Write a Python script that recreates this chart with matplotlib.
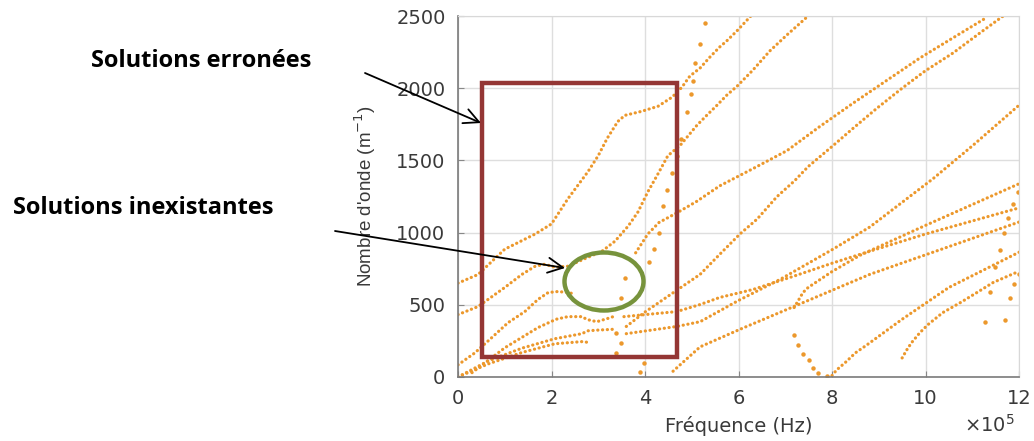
import matplotlib
matplotlib.use("Agg")
import matplotlib.pyplot as plt
from matplotlib.patches import Rectangle, Ellipse, FancyArrowPatch

# ---------------- data (x in units of 1e5 Hz, y in m^-1) ----------------
c1_x = [0, 0.43, 1.0, 1.65, 2.0, 2.35, 2.78, 3.0, 3.19, 3.42, 3.57, 3.93, 4.28, 4.58, 4.79, 4.96, 5.18, 5.39, 5.6, 5.75, 5.97, 6.29]
c1_y = [650, 710, 885, 990, 1060, 1234, 1422, 1533, 1652, 1770, 1812, 1840, 1875, 1938, 2007, 2084, 2140, 2216, 2286, 2328, 2398, 2509]

c2_x = [0, 0.43, 1.0, 1.37, 1.65, 1.86, 2.07, 2.35, 2.78, 3.08, 3.36, 3.64, 3.85, 4.06, 4.28, 4.49, 4.75, 5.11, 5.32, 5.54, 5.75, 5.97, 6.31, 6.67, 7.04, 7.49]
c2_y = [432, 488, 620, 711, 767, 781, 760, 767, 829, 871, 941, 1045, 1143, 1282, 1408, 1533, 1603, 1743, 1812, 1882, 1952, 2014, 2126, 2258, 2370, 2500]

c6_x = [0, 0.36, 0.72, 1.07, 1.43, 1.71, 1.93, 2.14, 2.35, 2.5]
c6_y = [84, 167, 272, 376, 453, 537, 585, 592, 585, 575]

c7_x = [0.3, 1.0, 1.71, 2.1, 2.35, 2.65, 2.76, 2.97, 3.19, 3.32]
c7_y = [30, 202, 342, 400, 418, 418, 398, 383, 404, 418]

c8a_x = [0, 0.64, 1.37, 2.07, 2.65, 2.78, 3.0, 3.3]
c8a_y = [0, 110, 200, 265, 300, 320, 325, 330]

c8b_x = [0, 0.64, 1.37, 2.07, 2.65, 2.78]
c8b_y = [0, 90, 170, 230, 245, 240]

l1_x = [3.8, 4.06, 4.3, 4.7, 5.1, 5.6, 6.31, 7.04, 7.74, 8.45, 9.18, 9.88, 10.59, 11.3]
l1_y = [860, 990, 1070, 1140, 1215, 1324, 1443, 1568, 1735, 1896, 2056, 2209, 2349, 2488]

l2_x = [3.6, 4.0, 4.64, 5.18, 5.6, 6.03, 6.4, 6.82, 7.2, 7.49, 8.0, 8.45, 8.96, 9.5, 9.99, 10.59, 11.17, 11.7]
l2_y = [350, 450, 592, 711, 850, 990, 1094, 1248, 1359, 1457, 1596, 1722, 1861, 2000, 2119, 2244, 2384, 2509]

ld_x = [3.55, 4.68, 5.18, 5.6, 6.31, 7.2, 8.02, 8.81, 10.0, 12.0]
ld_y = [418, 453, 502, 551, 606, 700, 790, 871, 990, 1171]

le_x = [3.6, 4.68, 5.18, 6.0, 6.89, 8.02, 8.81, 10.16, 11.0, 12.0]
le_y = [300, 350, 383, 530, 676, 885, 1039, 1373, 1600, 1882]

lf_x = [4.6, 4.75, 5.18, 6.03, 8.81, 12.0]
lf_y = [40, 84, 209, 330, 711, 1073]

lg_x = [7.19, 7.38, 7.49, 8.0, 8.6, 10.0, 12.0]
lg_y = [481, 585, 620, 730, 843, 1050, 1338]

lv_x = [8.0, 8.1, 8.3, 8.5, 8.75, 9.5, 10.5, 12.0]
lv_y = [10, 49, 105, 167, 223, 400, 620, 864]

lh_x = [9.5, 9.6, 9.7, 9.88, 10.05, 10.37, 10.75, 11.1, 11.45, 12.0]
lh_y = [132, 188, 237, 307, 362, 446, 516, 585, 655, 732]

# sparse dotted branches
c4_x = [4.09, 4.19, 4.3, 4.38, 4.48, 4.58, 4.69, 4.78, 4.89, 4.98, 5.03, 5.08, 5.18, 5.28]
c4_y = [795, 885, 1000, 1187, 1292, 1410, 1529, 1647, 1833, 1958, 2051, 2175, 2307, 2453]

vl_x = [7.19, 7.28, 7.38, 7.5, 7.6, 7.7, 7.9]
vl_y = [293, 223, 160, 118, 63, 28, 5]

s1_x = [11.27, 11.38, 11.49, 11.59, 11.68, 11.76, 11.87, 11.98]
s1_y = [383, 592, 760, 878, 997, 1101, 1199, 1282]

s2_x = [11.7, 11.8, 11.89, 12.0]
s2_y = [397, 544, 641, 711]

iso_x = [3.49, 3.57, 3.38, 3.49, 3.38, 3.89, 3.98]
iso_y = [544, 683, 306, 237, 167, 35, 98]

x_ticks = [0, 2, 4, 6, 8, 10, 12]
y_ticks = [0, 500, 1000, 1500, 2000, 2500]

# ---------------- figure ----------------
W, H = 1034, 441
fig = plt.figure(figsize=(W / 100, H / 100), dpi=100)
ax = fig.add_axes([458 / W, 64 / H, 561 / W, 361 / H])

dot_col = '#EC982C'
dotted = dict(color=dot_col, lw=2.3, ls=(0, (0.05, 1.45)), dash_capstyle='round')

for xs, ys in [(c1_x, c1_y), (c2_x, c2_y), (c6_x, c6_y), (c7_x, c7_y), (c8a_x, c8a_y),
               (c8b_x, c8b_y), (l1_x, l1_y), (l2_x, l2_y), (ld_x, ld_y), (le_x, le_y),
               (lf_x, lf_y), (lg_x, lg_y), (lv_x, lv_y), (lh_x, lh_y)]:
    ax.plot(xs, ys, **dotted)

for xs, ys in [(c4_x, c4_y), (vl_x, vl_y), (s1_x, s1_y), (s2_x, s2_y), (iso_x, iso_y)]:
    ax.plot(xs, ys, ls='none', marker='o', ms=3.2, mec='none', mfc=dot_col)

ax.set_xlim(0, 12)
ax.set_ylim(0, 2500)
ax.set_xticks(x_ticks)
ax.set_yticks(y_ticks)
ax.grid(True, color='#dedede', lw=1.0)
ax.set_axisbelow(True)
txt_col = '#3a3a3a'
tick_font = dict(family='DejaVu Sans', size=14, color=txt_col)
ax.set_xticklabels([str(t) for t in x_ticks], fontdict=tick_font)
ax.set_yticklabels([str(t) for t in y_ticks], fontdict=tick_font)
ax.tick_params(axis='x', direction='in', length=4, color='#888888', pad=9)
ax.tick_params(axis='y', direction='in', length=4, color='#888888', pad=9)
for s in ['left', 'bottom']:
    ax.spines[s].set_color('#7a7a7a')
    ax.spines[s].set_linewidth(1.2)
for s in ['top', 'right']:
    ax.spines[s].set_color('#d8d8d8')
ax.set_xlabel('Fréquence (Hz)', family='DejaVu Sans', size=14, color=txt_col)
ax.xaxis.set_label_coords(0.5, -0.108)
ax.set_ylabel("Nombre d'onde (m$^{-1}$)", family='Liberation Sans', size=13.5, color=txt_col)
ax.yaxis.set_label_coords(-0.143, 0.5)
fig.text(1015 / W, 1 - 432 / H, r'$\times$10$^{5}$', ha='right', va='baseline',
         family='DejaVu Sans', size=14, color=txt_col)

# ---------------- annotations (figure pixels) ----------------
def fp(x, y):
    return (x, H - y)

box = Rectangle(fp(482, 357), 195, 274, transform=None, fill=False,
                ec='#943634', lw=3.2)
fig.add_artist(box)
ell = Ellipse(fp(604, 281.5), 79, 58, transform=None, fill=False, ec='#77933C', lw=3.2)
fig.add_artist(ell)

arrow_kw = dict(arrowstyle='->,head_length=0.9,head_width=0.45', color='black', lw=1.3,
                shrinkA=0, shrinkB=0)
fig.add_artist(FancyArrowPatch(fp(365, 73), fp(481, 123), transform=None,
                               mutation_scale=12, **arrow_kw))
fig.add_artist(FancyArrowPatch(fp(335, 231), fp(565, 268), transform=None,
                               mutation_scale=12, **arrow_kw))

fig.text(201 / W, 1 - 61 / H, 'Solutions erronées', ha='center', va='center',
         family='Open Sans', weight='bold', size=17, color='black')
fig.text(143 / W, 1 - 208 / H, 'Solutions inexistantes', ha='center', va='center',
         family='Open Sans', weight='bold', size=17, color='black')

fig.savefig('out.png', dpi=100)
